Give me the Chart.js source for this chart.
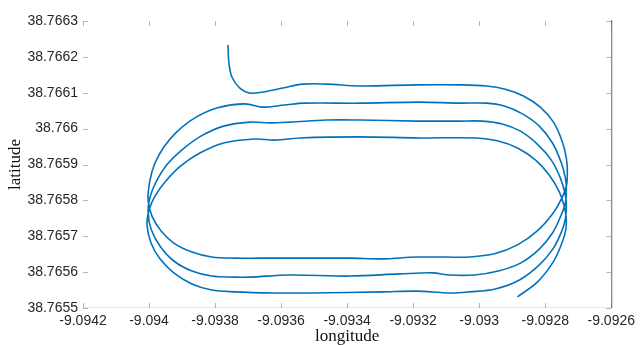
<!DOCTYPE html>
<html>
<head>
<meta charset="utf-8">
<script src="https://cdn.jsdelivr.net/npm/chart.js@4"></script>
<style>
  html, body { margin: 0; padding: 0; background: #fff; }
  #wrap { width: 640px; height: 345px; }
</style>
</head>
<body>
<div id="wrap"><canvas id="chart" width="640" height="345"></canvas></div>
<script>
// GPS track around the oval: 4 laps, each one drifting a little south.
const trackLon = [
  // lap 1 : start, north straight, east bend, south straight, west bend
  -9.093761, -9.093758, -9.093749, -9.093725, -9.093695, -9.093656, -9.093595, -9.093535,
  -9.093462, -9.093362, -9.093190, -9.093060, -9.092978,
  -9.092921, -9.092866, -9.092815, -9.092775, -9.092748, -9.092736, -9.092733,
  -9.092736, -9.092751, -9.092778, -9.092824, -9.092884, -9.092954, -9.093030,
  -9.093099, -9.093190, -9.093293, -9.093392, -9.093544, -9.093665, -9.093740,
  -9.093810, -9.093870, -9.093925, -9.093964, -9.093991, -9.094003,
  -9.093997, -9.093982, -9.093955, -9.093916, -9.093861, -9.093792, -9.093710,
  // lap 2
  -9.093656, -9.093589, -9.093529, -9.093362, -9.093181, -9.093060, -9.092978,
  -9.092924, -9.092869, -9.092818, -9.092778, -9.092751, -9.092739, -9.092736,
  -9.092739, -9.092754, -9.092778, -9.092818, -9.092875, -9.092942, -9.093014,
  -9.093090, -9.093141, -9.093241, -9.093392, -9.093574, -9.093695, -9.093740,
  -9.093810, -9.093870, -9.093925, -9.093967, -9.093994, -9.094003,
  -9.093997, -9.093979, -9.093946, -9.093901, -9.093843, -9.093774, -9.093695,
  // lap 3
  -9.093634, -9.093574, -9.093462, -9.093362, -9.093190, -9.093060, -9.092990,
  -9.092930, -9.092875, -9.092824, -9.092782, -9.092754, -9.092739, -9.092736,
  -9.092739, -9.092751, -9.092775, -9.092818, -9.092878, -9.092951, -9.093030,
  -9.093090, -9.093190, -9.093293, -9.093504, -9.093625, -9.093740,
  -9.093810, -9.093870, -9.093925, -9.093967, -9.093994, -9.094006,
  -9.094000, -9.093982, -9.093949, -9.093904, -9.093846, -9.093774, -9.093680,
  // lap 4, ends just after the east bend
  -9.093619, -9.093544, -9.093362, -9.093181, -9.093008,
  -9.092945, -9.092884, -9.092830, -9.092788, -9.092757, -9.092742, -9.092736,
  -9.092739, -9.092754, -9.092778, -9.092824, -9.092884
];
const trackLat = [
  38.766233, 38.766183, 38.766144, 38.766113, 38.766099, 38.766102, 38.766113, 38.766124,
  38.766124, 38.766119, 38.766122, 38.766122, 38.766119,
  38.766110, 38.766091, 38.766060, 38.766018, 38.765963, 38.765918, 38.765879,
  38.765840, 38.765804, 38.765762, 38.765715, 38.765676, 38.765651, 38.765642,
  38.765642, 38.765642, 38.765637, 38.765639, 38.765639, 38.765639, 38.765639,
  38.765642, 38.765656, 38.765681, 38.765715, 38.765756, 38.765801,
  38.765857, 38.765904, 38.765949, 38.765991, 38.766030, 38.766058, 38.766069,

  38.766060, 38.766066, 38.766071, 38.766071, 38.766074, 38.766071, 38.766071,
  38.766063, 38.766041, 38.766007, 38.765960, 38.765904, 38.765862, 38.765832,
  38.765793, 38.765754, 38.765709, 38.765664, 38.765625, 38.765603, 38.765592,
  38.765592, 38.765598, 38.765595, 38.765589, 38.765592, 38.765586, 38.765586,
  38.765589, 38.765603, 38.765631, 38.765673, 38.765720, 38.765768,
  38.765809, 38.765851, 38.765899, 38.765940, 38.765979, 38.766007, 38.766018,

  38.766016, 38.766018, 38.766024, 38.766024, 38.766021, 38.766021, 38.766021,
  38.766013, 38.765993, 38.765957, 38.765913, 38.765862, 38.765815, 38.765784,
  38.765748, 38.765712, 38.765667, 38.765620, 38.765578, 38.765553, 38.765545,
  38.765542, 38.765547, 38.765545, 38.765542, 38.765542, 38.765545,
  38.765550, 38.765567, 38.765598, 38.765637, 38.765681, 38.765731,
  38.765773, 38.765812, 38.765854, 38.765896, 38.765932, 38.765960, 38.765971,

  38.765968, 38.765974, 38.765977, 38.765974, 38.765974,
  38.765966, 38.765946, 38.765913, 38.765871, 38.765823, 38.765782, 38.765745,
  38.765712, 38.765670, 38.765625, 38.765572, 38.765531
];

const xTicks = [-9.0942, -9.094, -9.0938, -9.0936, -9.0934, -9.0932, -9.093, -9.0928, -9.0926];
const yTicks = [38.7655, 38.7656, 38.7657, 38.7658, 38.7659, 38.766, 38.7661, 38.7662, 38.7663];

const LINE = "#0072bd";
const TEXT = "#262626";
const SANS = "'Liberation Sans', Arial, sans-serif";
const SERIF = "'Liberation Serif', 'Times New Roman', serif";

const points = trackLon.map((lon, i) => ({ x: lon, y: trackLat[i] }));

// axes drawn by hand: ticks pointing inward, faint bottom edge, dark right edge
const frame = {
  id: "frame",
  beforeDatasetsDraw(chart) {
    const { ctx, chartArea: a, scales: { x, y } } = chart;
    ctx.save();
    ctx.lineWidth = 1;

    ctx.strokeStyle = "#e6e6e6";
    ctx.beginPath();
    ctx.moveTo(a.left, a.bottom - 0.5);
    ctx.lineTo(a.right, a.bottom - 0.5);
    ctx.stroke();

    ctx.strokeStyle = "#b4b4b4";
    ctx.beginPath();
    xTicks.forEach((v) => {
      const px = Math.round(x.getPixelForValue(v)) + 0.5;
      ctx.moveTo(px, a.bottom);
      ctx.lineTo(px, a.bottom - 5);
      ctx.moveTo(px, a.top);
      ctx.lineTo(px, a.top + 5);
    });
    yTicks.forEach((v) => {
      const py = Math.round(y.getPixelForValue(v)) + 0.5;
      ctx.moveTo(a.left, py);
      ctx.lineTo(a.left + 5, py);
      ctx.moveTo(a.right, py);
      ctx.lineTo(a.right - 5, py);
    });
    ctx.stroke();

    ctx.strokeStyle = "#666";
    ctx.beginPath();
    ctx.moveTo(a.right + 0.5, a.top - 1);
    ctx.lineTo(a.right + 0.5, a.bottom);
    ctx.stroke();
    ctx.restore();
  },
};

new Chart(document.getElementById("chart"), {
  type: "scatter",
  data: {
    datasets: [
      {
        data: points,
        showLine: true,
        borderColor: LINE,
        borderWidth: 1.6,
        tension: 0.35,
        pointRadius: 0,
        fill: false,
      },
    ],
  },
  plugins: [frame],
  options: {
    responsive: false,
    animation: false,
    layout: { padding: { left: 0, right: 28, top: 21, bottom: 0 } },
    plugins: { legend: { display: false }, tooltip: { enabled: false } },
    scales: {
      x: {
        type: "linear",
        min: -9.0942,
        max: -9.0926,
        afterBuildTicks: (s) => { s.ticks = xTicks.map((v) => ({ value: v })); },
        afterFit: (s) => { s.height = 37; },
        grid: { display: false, drawTicks: false },
        border: { display: false },
        ticks: {
          autoSkip: false,
          maxRotation: 0,
          padding: 5,
          color: TEXT,
          font: { family: SANS, size: 14 },
          callback: (v) => String(v),
        },
        title: {
          display: true,
          text: "longitude",
          color: "#111",
          padding: 0,
          font: { family: SERIF, size: 17, lineHeight: 1 },
        },
      },
      y: {
        type: "linear",
        min: 38.7655,
        max: 38.7663,
        afterBuildTicks: (s) => { s.ticks = yTicks.map((v) => ({ value: v })); },
        afterFit: (s) => { s.width = 83; },
        grid: { display: false, drawTicks: false },
        border: { display: false },
        ticks: {
          autoSkip: false,
          padding: 5,
          color: TEXT,
          font: { family: SANS, size: 14 },
          callback: (v) => String(v),
        },
        title: {
          display: true,
          text: "latitude",
          color: "#111",
          padding: { top: 7, bottom: 0 },
          font: { family: SERIF, size: 17, lineHeight: 1 },
        },
      },
    },
  },
});
</script>
</body>
</html>
